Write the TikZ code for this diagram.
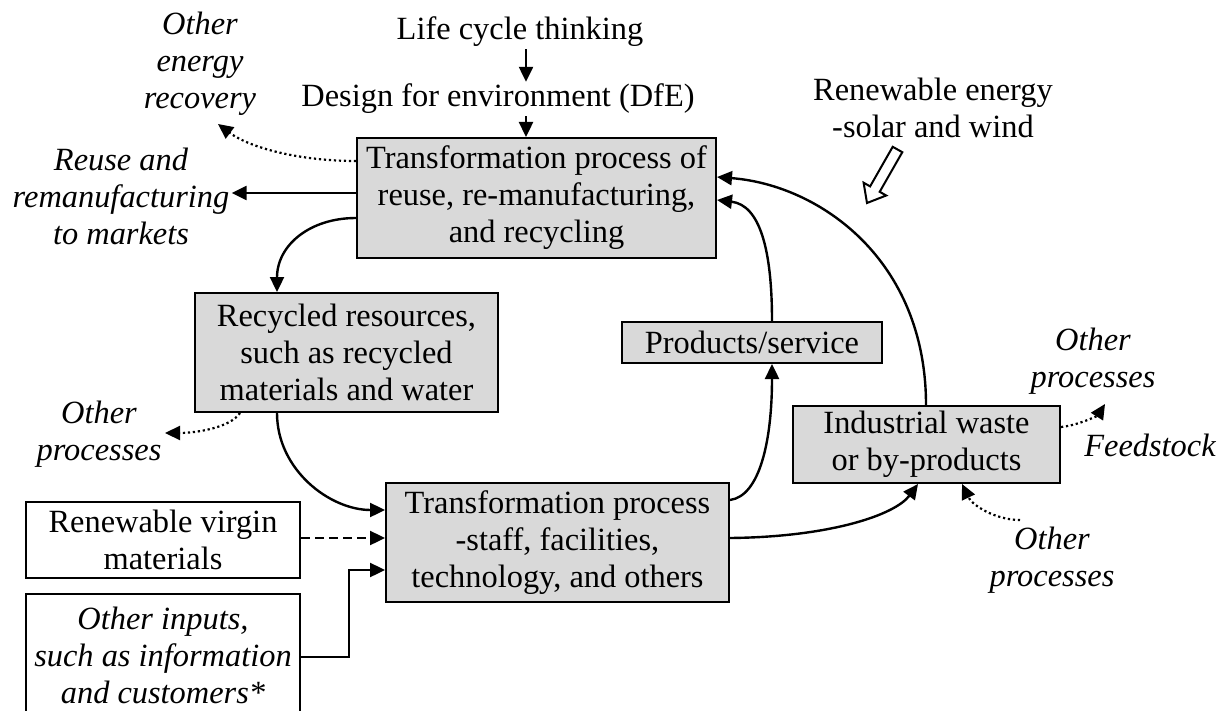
\documentclass[tikz,border=0pt]{standalone}
\usepackage{fontspec}
\setmainfont{Liberation Serif}
\usetikzlibrary{arrows.meta}
\definecolor{boxgray}{RGB}{217,217,217}
\begin{document}
\begin{tikzpicture}[x=0.5pt,y=-0.5pt,
  font=\fontsize{16.2}{18.5}\selectfont,
  box/.style={draw=black,line width=1pt,fill=boxgray,inner sep=0pt,align=center},
  wbox/.style={draw=black,line width=1pt,fill=white,inner sep=0pt,align=center},
  lbl/.style={inner sep=1pt,align=center},
  ilbl/.style={lbl,font=\fontsize{16.2}{18.5}\selectfont\itshape},
  flow/.style={line width=1.2pt,-{Triangle[length=7.5pt,width=7pt]}},
  dotflow/.style={flow,line width=1.1pt,dash pattern=on 1.1pt off 1.4pt},
  dashflow/.style={flow,dash pattern=on 4.5pt off 2.5pt}]
\useasboundingbox (0,0) rectangle (1230,711);
\clip (0,0) rectangle (1230,711);

% boxes
\node[box,minimum width=179.5pt,minimum height=60pt] (rtp) at (536.5,198)
  {Transformation process of\\reuse, re-manufacturing,\\and recycling};
\node[box,minimum width=151.5pt,minimum height=59.5pt] (res) at (346.5,352.5)
  {Recycled resources,\\such as recycled\\materials and water};
\node[box,minimum width=130pt,minimum height=20.5pt] (prod) at (752,342.5)
  {Products/service};
\node[box,minimum width=171.5pt,minimum height=59.5pt] (tp) at (557.5,542.5)
  {Transformation process\\-staff, facilities,\\technology, and others};
\node[box,minimum width=133.5pt,minimum height=38.5pt] (waste) at (926.5,444.5)
  {Industrial waste\\or by-products};
\node[wbox,minimum width=137pt,minimum height=38pt] (virgin) at (163,540)
  {Renewable virgin\\materials};
\node[wbox,minimum width=137pt,minimum height=61pt,font=\fontsize{16.2}{18.5}\selectfont\itshape] (inputs) at (163,655)
  {Other inputs,\\such as information\\and customers*};

% free labels
\node[lbl,anchor=base] (life) at (520,40) {Life cycle thinking};
\node[lbl,anchor=base] (dfe) at (498,107) {Design for environment (DfE)};
\node[ilbl] (oer) at (200,64) {Other\\energy\\recovery};
\node[ilbl] (reuse) at (121,196) {Reuse and\\remanufacturing\\to markets};
\node[ilbl] (opl) at (99,434) {Other\\processes};
\node[ilbl] (opr) at (1093,361) {Other\\processes};
\node[ilbl] (feed) at (1150,445) {Feedstock};
\node[ilbl] (opb) at (1052,560) {Other\\processes};
\node[lbl] (ren) at (933,108) {Renewable energy\\-solar and wind};

\coordinate (oerTip) at (218,124);
\coordinate (oplTip) at (165,433);
\coordinate (oprTip) at (1105,404);
\coordinate (opbTail) at (1020,520);

% design chain
\draw[flow] (life.south -| 526,0) -- (dfe.north -| 526,0);
\draw[flow] (dfe.south -| 526,0) -- (rtp.north -| 526,0);

% outputs of the recovery process
\draw[dotflow] (rtp.west |- 0,161) .. controls (300,161) and (250,148) .. (oerTip);
\draw[flow] (rtp.west |- 0,193) -- (reuse.east |- 0,193);
\draw[flow] (rtp.west |- 0,218) .. controls (310,218) and (277,245) .. (res.north -| 277,0);

% recycled resources
\draw[flow] (res.south -| 277,0) .. controls (277,470) and (330,510) .. (tp.west |- 0,510);
\draw[dotflow] (res.south -| 240,0) .. controls (230,428) and (195,433) .. (oplTip);

% other inputs
\draw[dashflow] (virgin.east |- 0,538) -- (tp.west |- 0,538);
\draw[flow] (inputs.east |- 0,657) -- ++(48,0) |- (tp.west |- 0,570);

% products and waste loops
\draw[flow] (tp.east |- 0,500) .. controls (760,496) and (772,440) .. (prod.south -| 772,0);
\draw[flow] (prod.north -| 772,0) .. controls (772,250) and (760,205) .. (rtp.east |- 0,200);
\draw[flow] (waste.north -| 926,0) .. controls (926,260) and (820,185) .. (rtp.east |- 0,177);
\draw[flow] (tp.east |- 0,538) .. controls (830,537) and (895,515) .. (waste.south -| 918,0);
\draw[dotflow] (waste.east |- 0,427) .. controls (1080,425) and (1098,415) .. (oprTip);
\draw[dotflow] (opbTail) .. controls (995,520) and (972,505) .. (waste.south -| 962,0);

% renewable energy input (hollow arrow)
\draw[line width=1pt,fill=white,line join=miter]
  (902.3,152.2) -- (879.7,191.8) -- (886.2,195.5) -- (867,203)
  -- (863.6,182.7) -- (870.1,186.4) -- (892.7,146.8) -- cycle;
\end{tikzpicture}
\end{document}
